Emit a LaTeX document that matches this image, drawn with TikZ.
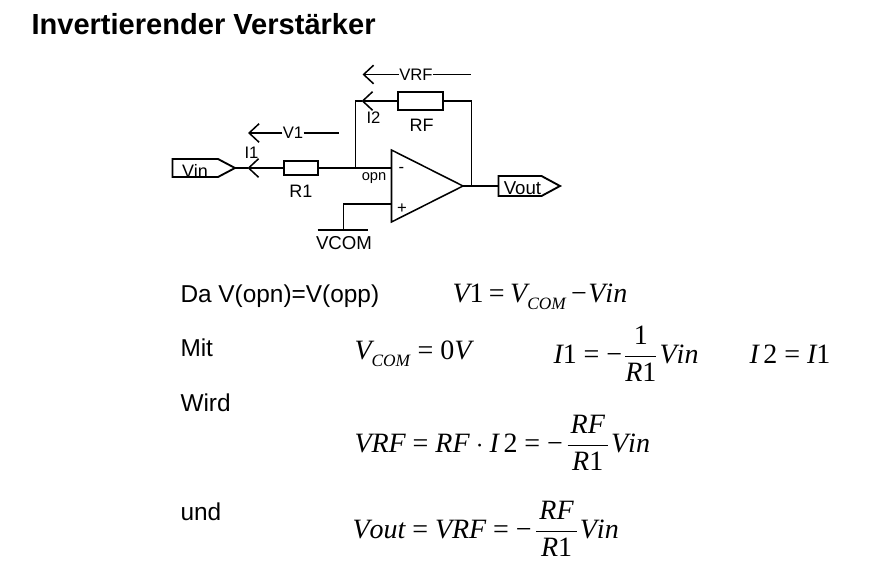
\documentclass[tikz,border=0pt]{standalone}
\usepackage{amsmath}
\usepackage{fontspec}
\setmainfont{Liberation Sans}
\newfontfamily\eqfont[Kerning=Off]{Liberation Serif}
\usetikzlibrary{arrows.meta}
\newcommand{\mi}[1]{\mbox{\eqfont\itshape #1}}
\newcommand{\mn}[1]{\mbox{\eqfont #1}}
\newcommand{\msub}[1]{_{\raisebox{-2.5pt}{\eqfont\itshape\fontsize{13}{13}\selectfont #1}}}
\newcommand{\meq}{\mathrel{\mn{=}}}
\newcommand{\mminus}{\mathord{\mn{−}}}
\newcommand{\mfrac}[2]{\mkern2mu\dfrac{\mkern2mu #1\mkern2mu}{\mkern2mu #2\mkern2mu}\mkern1mu}
\thickmuskip=4.5mu
\medmuskip=4mu

\tikzset{every picture/.style={line width=0.75pt}}
\tikzset{
	wire/.style={line width=1.15pt},
	barb/.style={line width=1.15pt,-{Straight Barb[length=7.5pt,width=14pt,line width=1.15pt]}},
	widerbox/.style={draw,line width=1.7pt,minimum height=#1,inner sep=0pt},
	circlabel/.style={font=\fontsize{12.5}{14}\selectfont,inner sep=0pt},
	bodytext/.style={font=\fontsize{18.3}{20}\selectfont,anchor=base west,inner sep=0pt},
	eqn/.style={font=\fontsize{21}{24}\selectfont,anchor=base west,inner sep=0pt}
}

\begin{document}
\begin{tikzpicture}[x=0.75pt,y=0.75pt,yscale=-1,xscale=1]
	\useasboundingbox (0,0) rectangle (883,585);

	% Title
	\node (title) [anchor=base west,inner sep=0pt,font=\bfseries\fontsize{21.8}{24}\selectfont] at (31,35) {Invertierender Verstärker};

	% Resistors
	\node (rf) [widerbox=13.5pt,minimum width=34pt] at (420.5,101) {};
	\node (rone) [widerbox=10.5pt,minimum width=25pt] at (301,168) {};

	% Opamp
	\coordinate (optl) at (391.5,150);
	\coordinate (opbl) at (391.5,222);
	\coordinate (optip) at (463,186);
	\draw [wire] (optl) -- (optip) -- (opbl) -- cycle;

	% Signal tags
	\coordinate (vintip) at (235,168);
	\coordinate (vouttail) at (498.5,186);
	\draw [wire,line width=1.4pt] (172.5,159) -- (218,159) -- (vintip) -- (218,177) -- (172.5,177) -- cycle;
	\draw [wire,line width=1.4pt] (vouttail) |- (541.5,176) -- (560,186) -- (541.5,196) -- (498.5,196) -- cycle;

	% Junctions
	\coordinate (opn) at (355.5,168);
	\coordinate (fbtl) at (355.5,101);
	\coordinate (fbtr) at (471.5,101);
	\coordinate (fbout) at (471.5,186);
	\coordinate (itwo) at (361.5,101);
	\coordinate (ione) at (247.5,168);
	\coordinate (oppin) at (391.5,204);
	\coordinate (oppcorner) at (343.5,204);
	\coordinate (gnd) at (343.5,230);

	% Wires
	\draw [wire] (rone.east) -- (opn) -- (391.5,168);
	\draw [wire] (opn) -- (fbtl) -- (itwo);
	\draw [barb] (rf.west) -- (itwo);
	\draw [wire] (rf.east) -- (fbtr) -- (fbout);
	\draw [wire] (optip) -- (vouttail);
	\draw [barb] (rone.west) -- (ione);
	\draw [wire] (ione) -- (vintip);
	\draw [wire] (oppin) -- (oppcorner) -- (gnd);
	\draw [wire] (317.5,230) -- (368,230);

	% Voltage arrows
	\node (vrf) [circlabel] at (416,74.5) {VRF};
	\coordinate (vrftip) at (362.5,74.5);
	\coordinate (vrfend) at (471,74.5);
	\draw [barb] (vrf) -- (vrftip);
	\draw [wire] (vrf) -- (vrfend);
	\node (vone) [circlabel] at (293,133) {V1};
	\coordinate (vonetip) at (248,133);
	\coordinate (voneend) at (339,133);
	\draw [barb] (vone) -- (vonetip);
	\draw [wire] (vone) -- (voneend);

	% Text Node
	\node (lbli1) [circlabel] at (251.5,153) {I1};
	\node (lbli2) [circlabel] at (373.5,117.5) {I2};
	\node (lblrf) [circlabel,font=\fontsize{13.5}{14}\selectfont] at (421.5,125) {RF};
	\node (lblr1) [circlabel,font=\fontsize{13.5}{14}\selectfont] at (301,191) {R1};
	\node (lblvin) [circlabel,font=\fontsize{13.5}{14}\selectfont] at (195,171) {Vin};
	\node (lblvout) [circlabel,font=\fontsize{14}{14}\selectfont] at (522.5,188) {Vout};
	\node (lblvcom) [circlabel,font=\fontsize{14}{14}\selectfont] at (344,243) {VCOM};
	\node (lblopn) [circlabel,font=\fontsize{11}{12}\selectfont] at (374,178) {opn};
	\node (lblminus) [circlabel] at (401.5,170) {-};
	\node (lblplus) [circlabel] at (402,209) {+};

	% Text Node
	\node (da) [bodytext] at (180,302) {Da V(opn)=V(opp)};
	\node (mit) [bodytext] at (180,356) {Mit};
	\node (wird) [bodytext] at (180,411) {Wird};
	\node (und) [bodytext] at (180,520) {und};

	% Equations
	\node (eqvone) [eqn] at (452,302) {$\thickmuskip=3.5mu\mi{V}\mn{1}\meq\mi{V}\msub{COM}\mkern3mu\mminus\mkern1mu\mi{Vin}$};
	\node (eqvcom) [eqn] at (354,359) {$\mi{V}\msub{COM}\meq\mn{0}\mi{V}$};
	\node (eqione) [eqn] at (553,363) {$\mi{I}\mn{1}\meq\mminus\mkern1mu\dfrac{\mn{1}}{\mi{R}\mn{1}}\mkern1mu\mi{Vin}$};
	\node (eqitwo) [eqn] at (749,363) {$\mi{I}\,\mn{2}\meq\mi{I}\mn{1}$};
	\node (eqvrf) [eqn] at (354,452) {$\mi{VRF}\meq\mi{RF}\cdot\mi{I}\,\mn{2}\meq\mminus\mfrac{\mi{RF}}{\mi{R}\mn{1}}\mi{Vin}$};
	\node (eqvout) [eqn] at (352,538) {$\mi{Vout}\meq\mi{VRF}\meq\mminus\mfrac{\mi{RF}}{\mi{R}\mn{1}}\mi{Vin}$};
\end{tikzpicture}
\end{document}
